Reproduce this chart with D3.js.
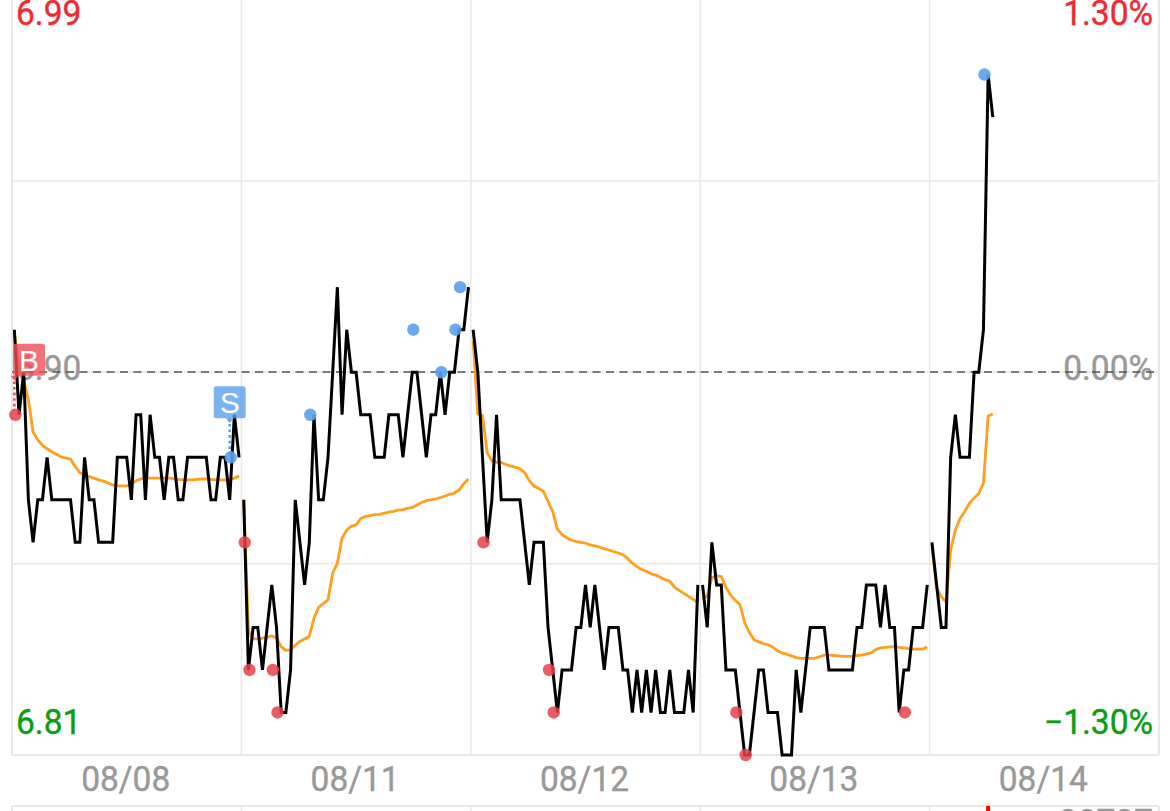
<!DOCTYPE html>
<html><head><meta charset="utf-8">
<script src="https://cdn.jsdelivr.net/npm/d3@7/dist/d3.min.js"></script>
<style>html,body{margin:0;padding:0;background:#fff;overflow:hidden}svg{display:block}</style>
</head><body><svg id="c" width="1170" height="811"></svg>
<script>
const dayLabels = ["08/08","08/11","08/12","08/13","08/14"];
const priceTicks = [6.99, 6.945, 6.90, 6.855, 6.81];
const leftLabels = ["6.99","6.90","6.81"];
const rightLabels = ["1.30%","0.00%","\u22121.30%"];
const prevClose = 6.90;

const price1 = [6.91,6.89,6.90,6.87,6.86,6.87,6.87,6.88,6.87,6.87,6.87,6.87,6.87,6.86,6.86,6.88,6.87,6.87,6.86,6.86,6.86,6.86,6.88,6.88,6.88,6.87,6.89,6.89,6.87,6.89,6.88,6.88,6.87,6.88,6.88,6.87,6.87,6.88,6.88,6.88,6.88,6.88,6.87,6.87,6.88,6.88,6.87,6.89,6.88];
const price2 = [6.87,6.83,6.84,6.84,6.83,6.84,6.85,6.84,6.82,6.82,6.83,6.87,6.86,6.85,6.86,6.89,6.87,6.87,6.88,6.90,6.92,6.89,6.91,6.90,6.90,6.89,6.89,6.89,6.88,6.88,6.88,6.89,6.89,6.89,6.88,6.89,6.90,6.90,6.89,6.88,6.89,6.89,6.90,6.89,6.90,6.90,6.91,6.91,6.92];
const price3 = [6.91,6.90,6.88,6.86,6.87,6.89,6.87,6.87,6.87,6.87,6.87,6.86,6.85,6.86,6.86,6.86,6.84,6.83,6.82,6.83,6.83,6.83,6.84,6.84,6.85,6.84,6.85,6.84,6.83,6.84,6.84,6.84,6.83,6.83,6.82,6.83,6.82,6.83,6.82,6.83,6.82,6.82,6.83,6.82,6.82,6.82,6.83,6.82,6.85];
const price4 = [6.85,6.84,6.86,6.85,6.85,6.83,6.83,6.83,6.82,6.81,6.81,6.82,6.83,6.83,6.82,6.82,6.82,6.81,6.81,6.81,6.83,6.82,6.83,6.84,6.84,6.84,6.84,6.83,6.83,6.83,6.83,6.83,6.83,6.84,6.84,6.85,6.85,6.85,6.84,6.85,6.84,6.84,6.82,6.83,6.83,6.84,6.84,6.84,6.85];
const price5 = [6.86,6.85,6.84,6.84,6.88,6.89,6.88,6.88,6.88,6.90,6.90,6.91,6.97,6.96];

const avg1 = [6.9092,6.9013,6.8982,6.8935,6.8860,6.8841,6.8829,6.8820,6.8813,6.8807,6.8801,6.8798,6.8796,6.8778,6.8764,6.8758,6.8755,6.8751,6.8747,6.8744,6.8740,6.8735,6.8733,6.8733,6.8733,6.8737,6.8745,6.8749,6.8751,6.8751,6.8751,6.8751,6.8751,6.8751,6.8750,6.8748,6.8747,6.8747,6.8747,6.8748,6.8749,6.8749,6.8748,6.8747,6.8747,6.8747,6.8747,6.8751,6.8756];
const avg2 = [6.8700,6.8391,6.8373,6.8373,6.8375,6.8377,6.8380,6.8375,6.8355,6.8346,6.8347,6.8358,6.8367,6.8373,6.8379,6.8422,6.8447,6.8456,6.8465,6.8528,6.8551,6.8610,6.8629,6.8638,6.8641,6.8656,6.8661,6.8663,6.8665,6.8666,6.8669,6.8671,6.8673,6.8676,6.8677,6.8680,6.8682,6.8688,6.8694,6.8698,6.8700,6.8702,6.8705,6.8709,6.8713,6.8716,6.8723,6.8738,6.8749];
const avg3 = [6.9074,6.8902,6.8898,6.8811,6.8792,6.8788,6.8788,6.8783,6.8779,6.8777,6.8773,6.8764,6.8745,6.8732,6.8727,6.8720,6.8696,6.8672,6.8631,6.8618,6.8611,6.8605,6.8602,6.8600,6.8598,6.8594,6.8592,6.8589,6.8585,6.8582,6.8578,6.8575,6.8571,6.8562,6.8551,6.8543,6.8536,6.8532,6.8526,6.8523,6.8518,6.8512,6.8509,6.8495,6.8487,6.8480,6.8473,6.8466,6.8458];
const avg4 = [6.8466,6.8474,6.8517,6.8521,6.8520,6.8494,6.8476,6.8464,6.8453,6.8411,6.8388,6.8371,6.8366,6.8362,6.8359,6.8354,6.8345,6.8340,6.8337,6.8333,6.8329,6.8327,6.8327,6.8327,6.8328,6.8331,6.8335,6.8335,6.8334,6.8333,6.8332,6.8332,6.8332,6.8334,6.8335,6.8338,6.8340,6.8348,6.8352,6.8353,6.8354,6.8355,6.8353,6.8352,6.8350,6.8349,6.8349,6.8349,6.8354];
const avg5 = [6.8590,6.8492,6.8472,6.8460,6.8582,6.8629,6.8656,6.8672,6.8692,6.8704,6.8715,6.8739,6.8897,6.8902];

const prices = [price1,price2,price3,price4,price5];
const avgs = [avg1,avg2,avg3,avg4,avg5];

const redSlots = [0,49,50,55,56,100,114,115,154,156,190];
const redPrices = [6.89,6.86,6.83,6.83,6.82,6.86,6.83,6.82,6.82,6.81,6.82];
const blueSlots = [46,63,85,91,94,95,207];
const bluePrices = [6.88,6.89,6.91,6.90,6.91,6.92,6.97];
const flagNames = ["B","S"];
const flagSlots = [0,46];
const flagPrices = [6.89,6.88];
const flagColors = ["#ee4f57","#5aa0ee"];

const slotsPerDay = 49, plotL = 12, plotR = 1159, plotT = -10.5, plotB = 755;
const svg = d3.select("#c");
const x = d3.scaleBand().domain(d3.range(slotsPerDay*dayLabels.length)).range([plotL,plotR]);
const cx = k => x(k)+x.bandwidth()/2;
const xDay = d3.scaleBand().domain(dayLabels).range([plotL,plotR]);
const y = d3.scaleLinear().domain([6.81,6.99]).range([plotB,plotT]);
const FONT = "Roboto, sans-serif";
const dayEdge = d => d<dayLabels.length?xDay(dayLabels[d]):plotR;

// lower panel edge
const lower = svg.append("g");
lower.append("line").attr("x1",plotL).attr("x2",plotR).attr("y1",806).attr("y2",806).attr("stroke","#e8e8e8").attr("stroke-width",2);
lower.selectAll("line.v").data(d3.range(dayLabels.length+1)).join("line").attr("class","v")
  .attr("x1",dayEdge).attr("x2",dayEdge)
  .attr("y1",806).attr("y2",811).attr("stroke","#e8e8e8").attr("stroke-width",d=>(d===0||d===dayLabels.length)?2:1.5);
lower.append("rect").attr("x",cx(208)-2).attr("y",806).attr("width",4).attr("height",5).attr("fill","#f00");
lower.append("text").attr("x",1153).attr("text-anchor","end").attr("y",833).attr("font-family",FONT).attr("font-size",33.5).attr("stroke","#999").attr("stroke-width",.4).attr("fill","#999").text("30737");

// grid
svg.append("g").selectAll("line").data(priceTicks).join("line")
  .attr("x1",plotL).attr("x2",plotR).attr("y1",d=>y(d)).attr("y2",d=>y(d))
  .attr("stroke","#e8e8e8").attr("stroke-width",d=>(d===6.81||d===6.99)?2:1.5);
svg.append("g").selectAll("line").data(d3.range(dayLabels.length+1)).join("line")
  .attr("x1",dayEdge).attr("x2",dayEdge)
  .attr("y1",plotT).attr("y2",plotB).attr("stroke","#e8e8e8").attr("stroke-width",d=>(d===0||d===dayLabels.length)?2:1.5);

// price labels
const stretch = 1.04, labelSize = 33.5, labelBold = .4;
function label(txt,xp,yp,anchor,color){
  svg.append("text").attr("transform",`translate(${xp},${yp}) scale(1,${stretch})`)
    .attr("text-anchor",anchor).attr("font-family",FONT).attr("font-size",labelSize)
    .attr("fill",color).attr("stroke",color).attr("stroke-width",labelBold).text(txt);
}
label(leftLabels[0],16,25,"start","#ee2a33");
label(leftLabels[1],16,380,"start","#999");
label(leftLabels[2],16,734,"start","#0a9e12");
label(rightLabels[0],1153,25,"end","#ee2a33");
label(rightLabels[1],1153,380,"end","#999");
label(rightLabels[2],1153,734,"end","#0a9e12");

// prev close
svg.append("line").attr("x1",plotL).attr("x2",plotR).attr("y1",Math.round(y(prevClose))).attr("y2",Math.round(y(prevClose)))
  .attr("stroke","#555").attr("stroke-width",1.6).attr("stroke-dasharray","8,5.5");

// date axis
const axisG = svg.append("g").attr("transform","translate(-1,791)")
  .call(d3.axisBottom(xDay).tickSize(0).tickPadding(0));
axisG.select(".domain").remove();
axisG.selectAll("text").attr("y",0).attr("dy",0).attr("font-family",FONT).attr("font-size",labelSize)
  .attr("fill","#999").attr("stroke","#999").attr("stroke-width",labelBold)
  .attr("transform",`scale(1,${stretch})`);

// lines
const offs = i => i*slotsPerDay;
const line = off => d3.line().x((d,i)=>cx(off+i)).y(d=>y(d)).curve(d3.curveLinear);
svg.append("g").selectAll("path").data(avgs).join("path")
  .attr("d",(d,i)=>line(offs(i))(d)).attr("fill","none").attr("stroke","#ff9f1c").attr("stroke-width",2.8).attr("stroke-linejoin","round");
svg.append("g").selectAll("path").data(prices).join("path")
  .attr("d",(d,i)=>line(offs(i))(d)).attr("fill","none").attr("stroke","#000").attr("stroke-width",3).attr("stroke-linejoin","miter").attr("stroke-miterlimit",3);

// signal dots
const dotDx = 1;
svg.append("g").selectAll("circle").data(redSlots).join("circle")
  .attr("cx",d=>cx(d)+dotDx).attr("cy",(d,i)=>y(redPrices[i])).attr("r",6.2).attr("fill","#e8404a").attr("fill-opacity",.85);
svg.append("g").selectAll("circle").data(blueSlots).join("circle")
  .attr("cx",d=>cx(d)+dotDx).attr("cy",(d,i)=>y(bluePrices[i])).attr("r",6.2).attr("fill","#5aa0ee").attr("fill-opacity",.9);

// flags
const flagSize = 32, flagGap = 39;
const flags = svg.append("g").selectAll("g").data(flagNames).join("g");
flags.each(function(name,i){
  const g = d3.select(this);
  const px = cx(flagSlots[i]), py = y(flagPrices[i]);
  const left = Math.max(plotL+1, px-flagSize/2);
  const top = py-flagGap-flagSize;
  const c = flagColors[i];
  g.append("line").attr("x1",px).attr("x2",px).attr("y1",top+flagSize).attr("y2",py)
    .attr("stroke",c).attr("stroke-width",2.6).attr("stroke-dasharray","2.6,3");
  g.append("path").attr("d",d3.line()([[px-4,top+flagSize],[px+4,top+flagSize],[px,top+flagSize+5]])+"Z").attr("fill",c).attr("fill-opacity",.8);
  g.append("rect").attr("x",left).attr("y",top).attr("width",flagSize).attr("height",flagSize).attr("rx",2.5)
    .attr("fill",c).attr("fill-opacity",.8);
  g.append("text").attr("x",left+flagSize/2).attr("y",top+flagSize/2+11).attr("text-anchor","middle")
    .attr("font-family","'Liberation Sans', sans-serif").attr("font-size",30).attr("fill","#fff").text(name);
});
</script></body></html>
